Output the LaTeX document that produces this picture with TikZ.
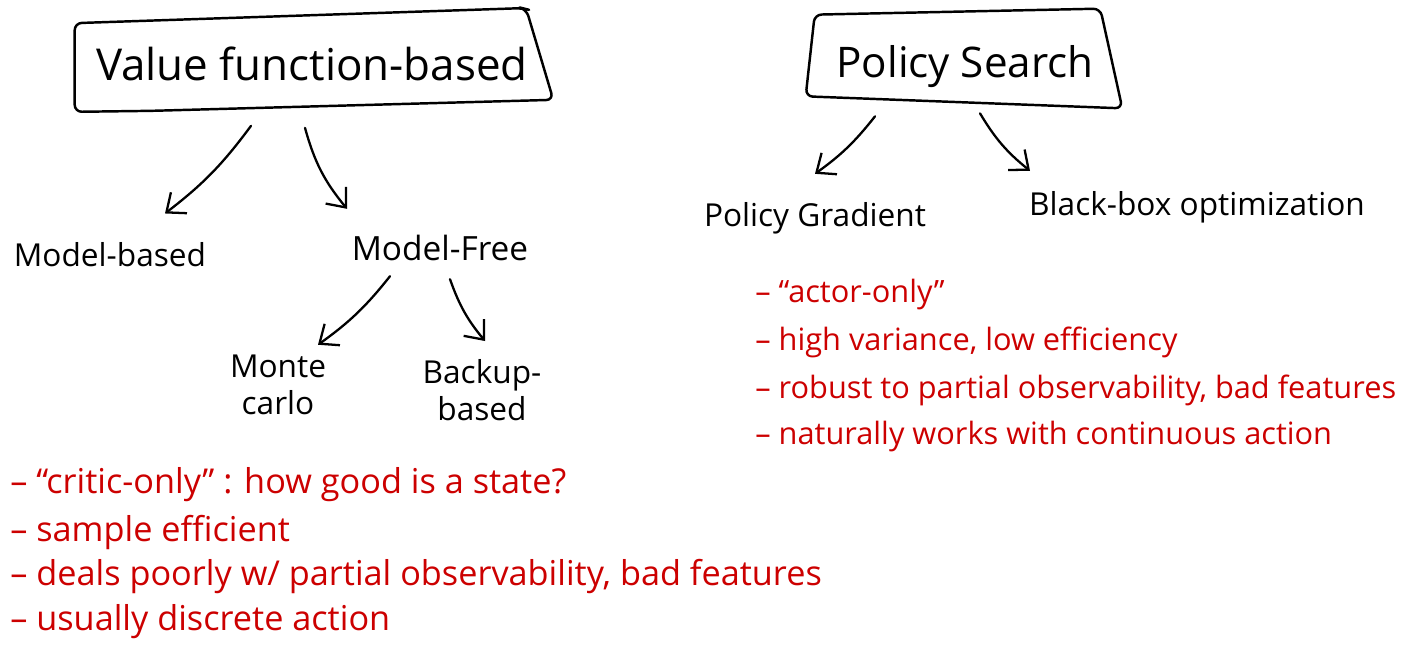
\documentclass[tikz,border=0pt]{standalone}
\usepackage{fontspec}
\setmainfont{Open Sans}
\usetikzlibrary{arrows.meta,positioning,calc}
\definecolor{InkRed}{RGB}{204,0,0}
\tikzset{
  headbox/.style={inner sep=0pt,align=center},
  outline/.style={line width=1.4pt,rounded corners=4pt,line cap=round,
    line join=round},
  term/.style={inner sep=0pt,align=center,
    font=\fontsize{18}{21}\selectfont},
  note/.style={anchor=west,inner sep=0pt,text=InkRed,
    font=\fontsize{19.5}{21}\selectfont},
  pnote/.style={note,font=\fontsize{17.5}{20}\selectfont},
  arrow/.style={-{Straight Barb[length=9pt,width=15pt]},line width=1.3pt,
    line cap=round}
}

\begin{document}
\begin{tikzpicture}[x=0.02cm,y=-0.02cm]
\useasboundingbox (0,0) rectangle (1424,651);

% the two families
\node[headbox,minimum width=9.6cm,minimum height=1.9cm,
  font=\fontsize{25}{29}\selectfont] (vfb) at (312,64) {Value function-based};
\node[headbox,minimum width=6.4cm,minimum height=1.6cm,
  font=\fontsize{24}{28}\selectfont] (ps) at (965,67) {Policy Search};

% hand drawn frames
\draw[outline] ($(vfb.north west)+(3,7)$) -- ($(vfb.north east)+(-30,-8)$)
  -- ($(vfb.north east)+(-26,-7)$) -- ($(vfb.south east)+(1,-12)$)
  -- ($(vfb.south west)+(80,-1)$) -- ($(vfb.south west)+(3,0)$) -- cycle;
\draw[outline] ($(ps.north west)+(10,-12)$) -- ($(ps.north east)+(-25,-18)$)
  -- ($(ps.south east)+(-3,1)$) -- ($(ps.south west)+(1,-11)$) -- cycle;

% value function side
\node[term] (mb) at (110,255) {Model-based};
\node[term,font=\fontsize{19}{22}\selectfont] (mf) at (440,248) {Model-Free};
\node[term] (mc) at (278,385) {Monte\\carlo};
\node[term] (bk) at (482,390) {Backup-\\based};

\draw[arrow] ($(vfb.south)+(-61,14)$) to[bend left=8] ($(mb.north)+(55,-29)$);
\draw[arrow] ($(vfb.south)+(-7,16)$) to[bend right=12] ($(mf.north)+(-93,-26)$);
\draw[arrow] ($(mf.south)+(-50,15)$) to[bend left=8] ($(mc.north)+(40,-10)$);
\draw[arrow] ($(mf.south)+(10,18)$) to[bend right=10] ($(bk.north)+(3,-18)$);

% policy search side
\node[term] (pg) at (815,218) {Policy Gradient};
\node[term] (bo) at (1197,207) {Black-box optimization};

\draw[arrow] ($(ps.south)+(-90,9)$) to[bend left=8] ($(pg.north)+(0,-28)$);
\draw[arrow] ($(ps.south)+(15,6)$) to[bend right=10] ($(bo.north)+(-167,-20)$);

% notes
\node[note] (v1) at (10,485) {– “critic-only” : how good is a state?};
\node[note] (v2) at (10,533) {– sample efficient};
\node[note] (v3) at (10,577) {– deals poorly w/ partial observability, bad features};
\node[note] (v4) at (10,622) {– usually discrete action};

\node[pnote] (p1) at (755,295) {– “actor-only”};
\node[pnote] (p2) at (755,342) {– high variance, low efficiency};
\node[pnote] (p3) at (755,390) {– robust to partial observability, bad features};
\node[pnote] (p4) at (755,437) {– naturally works with continuous action};
\end{tikzpicture}
\end{document}
